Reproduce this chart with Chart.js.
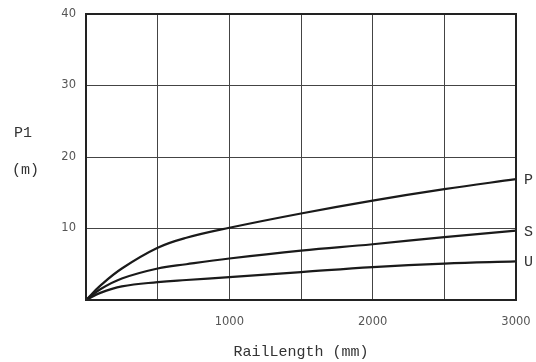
<!DOCTYPE html>
<html>
<head>
<meta charset="utf-8">
<script src="https://cdn.jsdelivr.net/npm/chart.js@4"></script>
<style>
  html, body { margin: 0; padding: 0; background: #fff; }
  #wrap { width: 536px; height: 362px; position: relative; }
</style>
</head>
<body>
<div id="wrap"><canvas id="chart" width="536" height="362"></canvas></div>
<script>
// Données
const railLength = [0, 100, 250, 500, 700, 1000, 1500, 2000, 2500, 3000];
const seriesP = [0, 2.0, 4.4, 7.3, 8.7, 10.1, 12.1, 13.9, 15.5, 16.9];
const seriesS = [0, 1.5, 3.0, 4.4, 5.0, 5.8, 6.9, 7.8, 8.8, 9.7];
const seriesU = [0, 1.0, 1.9, 2.5, 2.8, 3.2, 3.9, 4.6, 5.1, 5.4];
const curveNames = ['P', 'S', 'U'];
const yTicks = [10, 20, 30, 40];
const xTickLabels = [1000, 2000, 3000];

const monoFont = '"Liberation Mono", "DejaVu Sans Mono", monospace';
const sansFont = '"DejaVu Sans", sans-serif';

function toPoints(values) {
    return railLength.map((x, i) => ({ x: x, y: values[i] }));
}

function makeDataset(name, values) {
    return {
        label: name,
        data: toPoints(values),
        borderColor: '#1a1a1a',
        borderWidth: 2.2,
        pointRadius: 0,
        fill: false,
        tension: 0.4,
    };
}

// Textes hors des axes : P1 (m), titre de l'axe X, noms des courbes
const labelsPlugin = {
    id: 'labels',
    afterDraw(chart) {
        const ctx = chart.ctx;
        const area = chart.chartArea;
        ctx.save();
        ctx.fillStyle = '#333';
        ctx.font = '15px ' + monoFont;
        ctx.textBaseline = 'middle';
        ctx.textAlign = 'left';
        ctx.fillText('P1', 14, 133);
        ctx.fillText('(m)', 12, 170);
        ctx.textAlign = 'center';
        ctx.fillText('RailLength (mm)', (area.left + area.right) / 2, 352);

        // bordure épaisse du graphique
        ctx.strokeStyle = '#222';
        ctx.lineWidth = 2;
        ctx.strokeRect(area.left, area.top, area.right - area.left, area.bottom - area.top);

        ctx.textAlign = 'left';
        chart.data.datasets.forEach((ds, i) => {
            const meta = chart.getDatasetMeta(i);
            const last = meta.data[meta.data.length - 1];
            ctx.fillText(curveNames[i], area.right + 8, last.y + 1);
        });
        ctx.restore();
    }
};

const chart = new Chart(document.getElementById('chart').getContext('2d'), {
    type: 'line',
    data: {
        datasets: [
            makeDataset('P', seriesP),
            makeDataset('S', seriesS),
            makeDataset('U', seriesU),
        ],
    },
    options: {
        responsive: false,
        animation: false,
        layout: { padding: { top: 0, right: 0, left: 0, bottom: 0 } },
        plugins: { legend: { display: false }, tooltip: { enabled: false } },
        scales: {
            x: {
                type: 'linear',
                min: 0,
                max: 3000,
                afterFit(scale) { scale.height = 62; scale.paddingRight = 20; },
                afterBuildTicks(scale) {
                    const t = [];
                    for (let v = 0; v <= 3000; v += 500) t.push({ value: v });
                    scale.ticks = t;
                },
                grid: { color: '#444', lineWidth: 1, drawTicks: false },
                border: { display: false },
                ticks: {
                    padding: 15,
                    maxRotation: 0,
                    autoSkip: false,
                    color: '#555',
                    font: { family: sansFont, size: 11.5 },
                    callback: (v) => xTickLabels.includes(v) ? String(v) : '',
                },
            },
            y: {
                min: 0,
                max: 40,
                afterFit(scale) { scale.width = 86; scale.paddingTop = 14; },
                afterBuildTicks(scale) {
                    scale.ticks = [0].concat(yTicks).map(v => ({ value: v }));
                },
                grid: { color: '#444', lineWidth: 1, drawTicks: false },
                border: { display: false },
                ticks: {
                    padding: 10,
                    color: '#555',
                    font: { family: sansFont, size: 11.5 },
                    callback: (v) => yTicks.includes(v) ? String(v) : '',
                },
            },
        },
    },
    plugins: [labelsPlugin],
});
</script>
</body>
</html>
